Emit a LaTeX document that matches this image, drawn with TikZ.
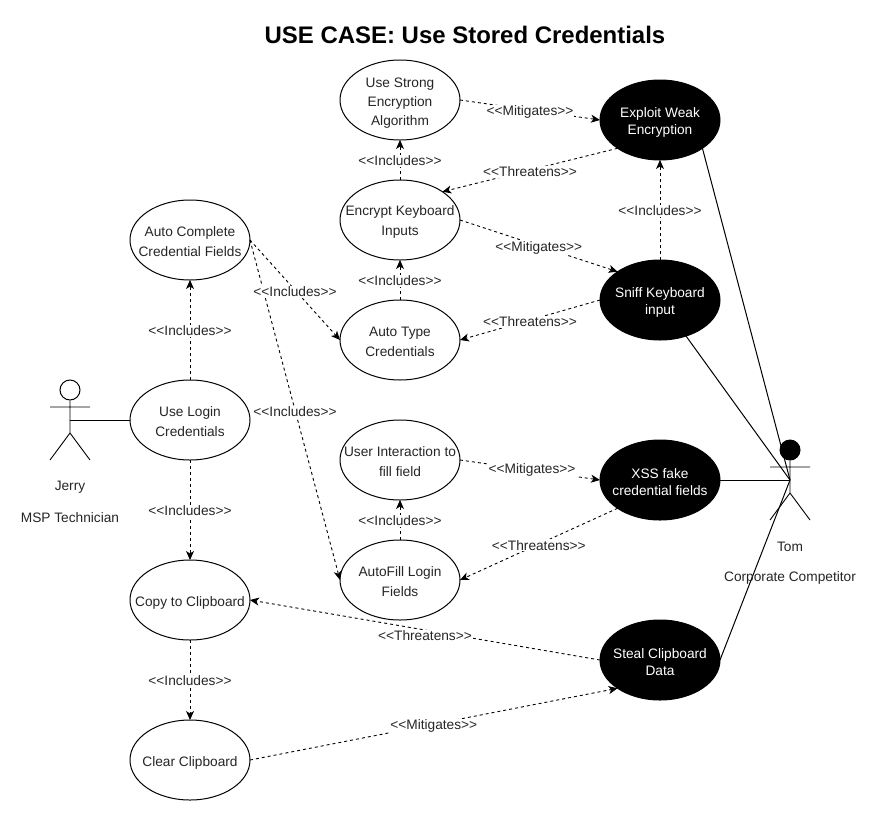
\documentclass[tikz,border=0pt]{standalone}
\usepackage{fontspec}
\setmainfont{Liberation Sans}[Ligatures=TeXOff]
\usetikzlibrary{shapes.geometric,arrows.meta}
\newcommand\ucstrut[1]{\rule{0pt}{#1pt}}
\tikzset{
  uc/.style={ellipse,draw=black,line width=1pt,fill=white,minimum width=120pt,minimum height=80pt,
    inner xsep=-45pt,inner ysep=-35pt,outer sep=0pt,align=center,font=\fontsize{13.7}{20}\selectfont,text=black!85},
  threat/.style={uc,fill=black,text=white,font=\fontsize{13.7}{17}\selectfont},
  dep/.style={line width=.9pt,dash pattern=on 3pt off 3pt,-{Stealth[length=9pt,width=8pt,inset=2.5pt]}},
  lbl/.style={fill=white,inner xsep=1pt,inner ysep=1pt,yshift=-2pt,font=\fontsize{13.7}{16}\selectfont,text=black!85},
  assoc/.style={line width=1pt},
  limb/.style={line width=.9pt},
  capt/.style={font=\fontsize{13.7}{16}\selectfont,text=black!85},
}
\begin{document}
\begin{tikzpicture}[x=1pt,y=-1pt]
\useasboundingbox[fill=white] (0,0) rectangle (878,828);
\node[font=\fontsize{23.95}{28}\bfseries\selectfont] (title) at (465,35) {USE CASE: Use Stored Credentials};

% actors
\node[circle,draw=black,line width=1pt,fill=white,minimum size=20pt,inner sep=0pt] (jhead) at (70,390) {};
\coordinate (jneck) at (70,400);
\coordinate (jhip) at (70,433);
\coordinate (jerry) at (70,420);
\coordinate (jal) at (50,407);
\coordinate (jar) at (90,407);
\coordinate (jll) at (50,460);
\coordinate (jlr) at (90,460);
\draw[limb] (jhead) -- (jhip) (jal) -- (jar) (jll) -- (jhip) -- (jlr);
\node[capt] (jname) at (70,487) {Jerry};
\node[capt] (jrole) at (70,518) {MSP Technician};

\node[circle,draw=black,line width=1pt,fill=black,minimum size=20pt,inner sep=0pt] (thead) at (790,450) {};
\coordinate (thip) at (790,493);
\coordinate (tom) at (790,480);
\coordinate (tal) at (770,467);
\coordinate (tar) at (810,467);
\coordinate (tll) at (770,520);
\coordinate (tlr) at (810,520);
\draw[limb] (thead) -- (thip) (tal) -- (tar) (tll) -- (thip) -- (tlr);

% use cases
\node[uc,font=\fontsize{13.7}{19}\selectfont] (strong) at (400,100) {\ucstrut{16.4}Use Strong\\Encryption\\Algorithm};
\node[uc] (enc) at (400,220) {\ucstrut{13.2}Encrypt Keyboard\\Inputs};
\node[uc] (type) at (400,340) {\ucstrut{13.2}Auto Type\\Credentials};
\node[uc] (inter) at (400,460) {\ucstrut{13.2}User Interaction to\\fill field};
\node[uc] (fill) at (400,580) {\ucstrut{13.2}AutoFill Login\\Fields};
\node[uc] (comp) at (190,240) {\ucstrut{13.2}Auto Complete\\Credential Fields};
\node[uc] (login) at (190,420) {\ucstrut{13.2}Use Login\\Credentials};
\node[uc] (copy) at (190,600) {\ucstrut{16}Copy to Clipboard};
\node[uc] (clear) at (190,760) {\ucstrut{16}Clear Clipboard};
\node[threat] (weak) at (660,120) {\ucstrut{14.6}Exploit Weak\\Encryption};
\node[threat] (sniff) at (660,300) {\ucstrut{14.6}Sniff Keyboard\\input};
\node[threat] (xss) at (660,480) {\ucstrut{14.6}XSS fake\\credential fields};
\node[threat] (steal) at (660,660) {\ucstrut{14.6}Steal Clipboard\\Data};

% associations
\draw[assoc] (jerry) -- (login.west);
\draw[assoc] (weak.south east) -- (tom);
\draw[assoc] (sniff) -- (tom);
\draw[assoc] (xss.east) -- (tom);
\draw[assoc] (steal.east) -- (tom);

% dependencies
\draw[dep] (comp.east) -- node[lbl,pos=.5] (l1) {<<Includes>>} (fill.west);
\draw[dep] (comp.east) -- node[lbl,pos=.5] (l2) {<<Includes>>} (type.west);
\draw[dep] (login.north) -- node[lbl,pos=.51] (l3) {<<Includes>>} (comp.south);
\draw[dep] (login.south) -- node[lbl,pos=.49] (l4) {<<Includes>>} (copy.north);
\draw[dep] (copy.south) -- node[lbl,pos=.4875] (l5) {<<Includes>>} (clear.north);
\draw[dep] (enc.north) -- node[lbl,pos=.525] (l6) {<<Includes>>} (strong.south);
\draw[dep] (type.north) -- node[lbl,pos=.525] (l7) {<<Includes>>} (enc.south);
\draw[dep] (fill.north) -- node[lbl,pos=.525] (l8) {<<Includes>>} (inter.south);
\draw[dep] (sniff.north) -- node[lbl,pos=.51] (l9) {<<Includes>>} (weak.south);
\draw[dep] (strong.east) -- node[lbl,pos=.5] (m1) {<<Mitigates>>} (weak.west);
\draw[dep] (enc.east) -- node[lbl,pos=.5] (m2) {<<Mitigates>>} (sniff.north west);
\draw[dep] (inter.east) -- node[lbl,pos=.5,yshift=2pt,xshift=2pt] (m3) {<<Mitigates>>} (xss.west);
\draw[dep] (clear.east) -- node[lbl,pos=.5] (m4) {<<Mitigates>>} (steal.south west);
\draw[dep] (weak.south west) -- node[lbl,pos=.5] (t1) {<<Threatens>>} (enc.north east);
\draw[dep] (sniff.west) -- node[lbl,pos=.5] (t2) {<<Threatens>>} (type.east);
\draw[dep] (xss.south west) -- node[lbl,pos=.5,yshift=1pt] (t3) {<<Threatens>>} (fill.east);
\draw[dep] (steal.west) -- node[lbl,pos=.5,yshift=-4pt] (t4) {<<Threatens>>} (copy.east);

\node[capt] (tname) at (790,547) {Tom};
\node[capt] (trole) at (790,578) {Corporate Competitor};
\end{tikzpicture}
\end{document}
